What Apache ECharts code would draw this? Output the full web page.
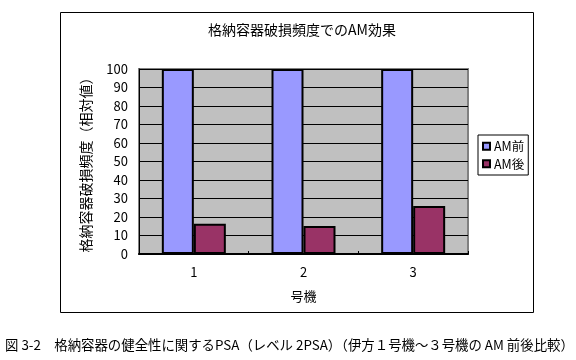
<!DOCTYPE html>
<html>
<head>
<meta charset="utf-8">
<script src="https://cdn.jsdelivr.net/npm/echarts@6/dist/echarts.min.js"></script>
<style>
html,body{margin:0;padding:0;background:#fff;}
#c{width:576px;height:360px;}
</style>
</head>
<body>
<div id="c"></div>
<script>
var categories = ['1', '2', '3'];
var seriesNames = ['AM前', 'AM後'];
var amBefore = [100, 100, 100];
var amAfter = [16.3, 15.2, 26];
var yTicks = [0, 100, 10];
var chartTitle = '格納容器破損頻度でのAM効果';
var yName = '格納容器破損頻度（相対値）';
var xName = '号機';
var caption = '図 3-2　格納容器の健全性に関するPSA（レベル 2PSA）（伊方１号機～３号機の AM 前後比較）';

var FONT = '"Noto Sans CJK JP", sans-serif';
var chart = echarts.init(document.getElementById('c'), null, {renderer: 'canvas'});
chart.setOption({
  animation: false,
  backgroundColor: '#ffffff',
  textStyle: {fontFamily: FONT, color: '#000'},
  graphic: [
    {type: 'rect', shape: {x: 60.5, y: 12.5, width: 473, height: 300}, style: {fill: 'none', stroke: '#000', lineWidth: 1}, z: -1},
    {type: 'text', x: 302, y: 30, style: {text: chartTitle, fontSize: 14, fontFamily: FONT, fill: '#000', align: 'center', verticalAlign: 'middle'}},
    {type: 'text', x: 5, y: 345, style: {text: caption, fontSize: 13.4, fontFamily: FONT, fill: '#000', align: 'left', verticalAlign: 'middle'}}
  ],
  legend: {
    orient: 'vertical',
    left: 478, top: 135,
    width: 51,
    padding: [5, 4, 5, 4],
    itemGap: 5,
    itemWidth: 7, itemHeight: 7,
    icon: 'rect',
    borderColor: '#000', borderWidth: 1,
    textStyle: {fontSize: 12.5, fontFamily: FONT, color: '#000', padding: [0, 0, 0, -1]},
    data: seriesNames
  },
  grid: {
    left: 139, right: 108, top: 69, bottom: 106,
    show: true, backgroundColor: '#C0C0C0', borderColor: '#808080', borderWidth: 2
  },
  xAxis: {
    type: 'category',
    data: categories,
    name: xName, nameLocation: 'middle', nameGap: 36,
    nameTextStyle: {fontSize: 13, fontFamily: FONT, color: '#000'},
    axisLine: {lineStyle: {color: '#000', width: 2}},
    axisTick: {show: true, inside: true, length: 3, lineStyle: {color: '#000'}},
    axisLabel: {fontSize: 13, fontFamily: FONT, color: '#000', margin: 12}
  },
  yAxis: {
    type: 'value',
    min: yTicks[0], max: yTicks[1], interval: yTicks[2],
    name: yName, nameLocation: 'middle', nameRotate: 90, nameGap: 46,
    nameTextStyle: {fontSize: 14, fontFamily: FONT, color: '#000'},
    axisLine: {show: true, lineStyle: {color: '#000', width: 1}},
    axisTick: {show: false},
    axisLabel: {fontSize: 13, fontFamily: FONT, color: '#000', margin: 11},
    splitLine: {show: true, lineStyle: {color: '#000', width: 1}}
  },
  series: [
    {name: seriesNames[0], type: 'bar', data: amBefore, barWidth: 32, barGap: '0%',
     itemStyle: {color: '#9999FF', borderColor: '#000', borderWidth: 2}},
    {name: seriesNames[1], type: 'bar', data: amAfter, barWidth: 32, barGap: '0%',
     itemStyle: {color: '#993366', borderColor: '#000', borderWidth: 2}}
  ]
});
</script>
</body>
</html>
